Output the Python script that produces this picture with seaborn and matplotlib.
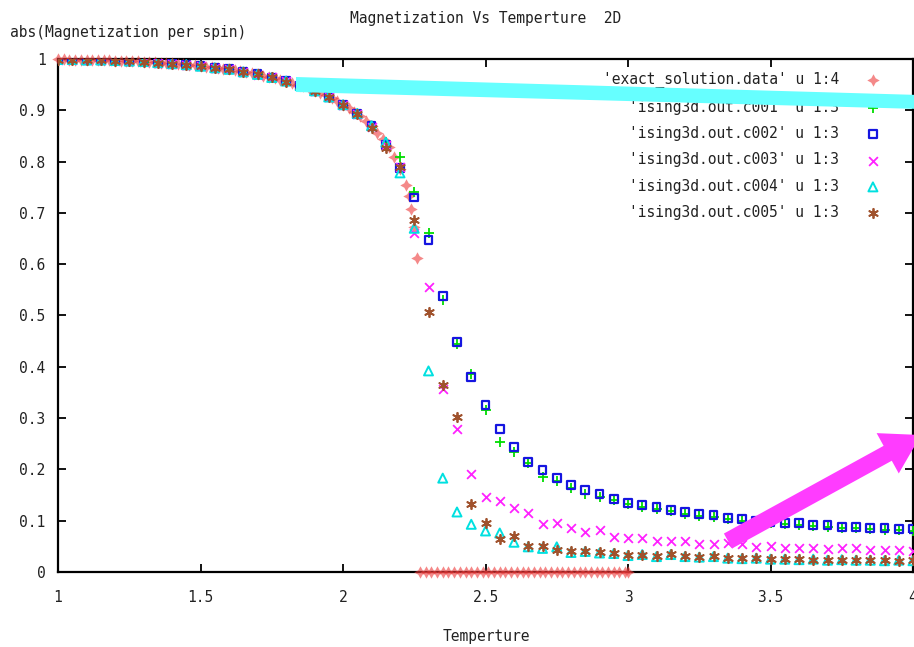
import pandas as pd
import seaborn as sns
import matplotlib.pyplot as plt
from matplotlib.patches import FancyArrow, Polygon
from matplotlib.ticker import FormatStrFormatter, MultipleLocator
from matplotlib.transforms import IdentityTransform

# temperatures of the simulation runs
temps = [1.00, 1.05, 1.10, 1.15, 1.20, 1.25, 1.30, 1.35, 1.40, 1.45,
         1.50, 1.55, 1.60, 1.65, 1.70, 1.75, 1.80, 1.85, 1.90, 1.95,
         2.00, 2.05, 2.10, 2.15, 2.20, 2.25, 2.30, 2.35, 2.40, 2.45,
         2.50, 2.55, 2.60, 2.65, 2.70, 2.75, 2.80, 2.85, 2.90, 2.95,
         3.00, 3.05, 3.10, 3.15, 3.20, 3.25, 3.30, 3.35, 3.40, 3.45,
         3.50, 3.55, 3.60, 3.65, 3.70, 3.75, 3.80, 3.85, 3.90, 3.95, 4.00]

c001 = [0.999, 0.999, 0.998, 0.998, 0.997, 0.996, 0.995, 0.993, 0.991, 0.988,
        0.986, 0.983, 0.979, 0.975, 0.970, 0.963, 0.956, 0.948, 0.937, 0.925,
        0.910, 0.892, 0.868, 0.838, 0.809, 0.740, 0.660, 0.530, 0.445, 0.386,
        0.315, 0.254, 0.233, 0.213, 0.185, 0.178, 0.163, 0.152, 0.147, 0.140,
        0.132, 0.127, 0.123, 0.118, 0.114, 0.110, 0.108, 0.103, 0.100, 0.098,
        0.095, 0.093, 0.092, 0.089, 0.088, 0.085, 0.085, 0.083, 0.082, 0.081, 0.080]
c002 = [0.999, 0.999, 0.998, 0.998, 0.997, 0.996, 0.995, 0.993, 0.991, 0.989,
        0.986, 0.983, 0.980, 0.975, 0.970, 0.964, 0.957, 0.948, 0.938, 0.926,
        0.911, 0.893, 0.869, 0.832, 0.787, 0.730, 0.647, 0.538, 0.449, 0.380,
        0.325, 0.279, 0.243, 0.215, 0.199, 0.183, 0.170, 0.160, 0.152, 0.142,
        0.135, 0.130, 0.127, 0.121, 0.117, 0.113, 0.111, 0.105, 0.103, 0.100,
        0.097, 0.095, 0.095, 0.091, 0.091, 0.088, 0.087, 0.086, 0.086, 0.083, 0.083]
c003 = [0.999, 0.999, 0.998, 0.998, 0.997, 0.996, 0.995, 0.993, 0.991, 0.989,
        0.986, 0.982, 0.980, 0.975, 0.969, 0.964, 0.957, 0.947, 0.938, 0.926,
        0.911, 0.893, 0.867, 0.833, 0.790, 0.660, 0.556, 0.357, 0.279, 0.191,
        0.147, 0.139, 0.125, 0.115, 0.093, 0.095, 0.086, 0.078, 0.082, 0.069,
        0.066, 0.066, 0.060, 0.060, 0.060, 0.055, 0.055, 0.056, 0.055, 0.049,
        0.050, 0.047, 0.047, 0.047, 0.044, 0.046, 0.046, 0.043, 0.043, 0.043, 0.040]
c004 = [0.999, 0.999, 0.998, 0.998, 0.997, 0.996, 0.995, 0.993, 0.991, 0.989,
        0.986, 0.983, 0.980, 0.975, 0.970, 0.964, 0.957, 0.948, 0.938, 0.926,
        0.911, 0.894, 0.870, 0.838, 0.778, 0.670, 0.392, 0.183, 0.117, 0.093,
        0.080, 0.076, 0.058, 0.049, 0.046, 0.049, 0.038, 0.040, 0.037, 0.036,
        0.032, 0.034, 0.030, 0.034, 0.030, 0.029, 0.030, 0.027, 0.026, 0.027,
        0.025, 0.025, 0.024, 0.025, 0.023, 0.024, 0.023, 0.023, 0.022, 0.023, 0.022]
c005 = [0.999, 0.999, 0.998, 0.998, 0.997, 0.996, 0.995, 0.993, 0.991, 0.989,
        0.986, 0.983, 0.980, 0.975, 0.970, 0.964, 0.956, 0.948, 0.938, 0.926,
        0.910, 0.892, 0.866, 0.826, 0.790, 0.686, 0.507, 0.365, 0.302, 0.132,
        0.095, 0.064, 0.070, 0.051, 0.050, 0.043, 0.040, 0.040, 0.039, 0.037,
        0.033, 0.033, 0.031, 0.035, 0.031, 0.029, 0.031, 0.027, 0.027, 0.027,
        0.025, 0.025, 0.025, 0.024, 0.024, 0.023, 0.024, 0.023, 0.023, 0.022, 0.023]

# exact (Onsager) curve, below and above Tc
exact_t_low = [1.00, 1.02, 1.04, 1.06, 1.08, 1.10, 1.12, 1.14, 1.16, 1.18,
               1.20, 1.22, 1.24, 1.26, 1.28, 1.30, 1.32, 1.34, 1.36, 1.38,
               1.40, 1.42, 1.44, 1.46, 1.48, 1.50, 1.52, 1.54, 1.56, 1.58,
               1.60, 1.62, 1.64, 1.66, 1.68, 1.70, 1.72, 1.74, 1.76, 1.78,
               1.80, 1.82, 1.84, 1.86, 1.88, 1.90, 1.92, 1.94, 1.96, 1.98,
               2.00, 2.02, 2.04, 2.06, 2.08, 2.10, 2.12, 2.14, 2.16, 2.18,
               2.20, 2.22, 2.23, 2.24, 2.25, 2.26]
exact_m_low = [0.9993, 0.9991, 0.9989, 0.9987, 0.9985, 0.9984, 0.9981, 0.9979, 0.9976, 0.9973,
               0.9970, 0.9966, 0.9962, 0.9957, 0.9953, 0.9948, 0.9942, 0.9936, 0.9929, 0.9922,
               0.9914, 0.9905, 0.9896, 0.9887, 0.9876, 0.9865, 0.9853, 0.9840, 0.9826, 0.9811,
               0.9796, 0.9779, 0.9761, 0.9742, 0.9722, 0.9701, 0.9678, 0.9654, 0.9628, 0.9600,
               0.9569, 0.9536, 0.9501, 0.9464, 0.9425, 0.9383, 0.9338, 0.9290, 0.9239, 0.9182,
               0.9113, 0.9043, 0.8968, 0.8887, 0.8795, 0.8687, 0.8566, 0.8431, 0.8275, 0.8082,
               0.7848, 0.7535, 0.7330, 0.7080, 0.6720, 0.6120]
exact_t_high = [2.27, 2.29, 2.31, 2.33, 2.35, 2.37, 2.39, 2.41, 2.43, 2.45,
                2.47, 2.49, 2.51, 2.53, 2.55, 2.57, 2.59, 2.61, 2.63, 2.65,
                2.67, 2.69, 2.71, 2.73, 2.75, 2.77, 2.79, 2.81, 2.83, 2.85,
                2.87, 2.89, 2.91, 2.93, 2.95, 2.97, 2.99, 3.00]
exact_m_high = [0.0, 0.0, 0.0, 0.0, 0.0, 0.0, 0.0, 0.0, 0.0, 0.0,
                0.0, 0.0, 0.0, 0.0, 0.0, 0.0, 0.0, 0.0, 0.0, 0.0,
                0.0, 0.0, 0.0, 0.0, 0.0, 0.0, 0.0, 0.0, 0.0, 0.0,
                0.0, 0.0, 0.0, 0.0, 0.0, 0.0, 0.0, 0.0]

labels = ["'exact_solution.data' u 1:4",
          "'ising3d.out.c001' u 1:3",
          "'ising3d.out.c002' u 1:3",
          "'ising3d.out.c003' u 1:3",
          "'ising3d.out.c004' u 1:3",
          "'ising3d.out.c005' u 1:3"]

sns.set_style("ticks")
plt.rcParams["font.family"] = ["DejaVu Sans Mono"]
txt = "#222222"
fs = 10.5

W, H = 914, 647
fig = plt.figure(figsize=(W / 100, H / 100), dpi=100)
ax = fig.add_axes([58 / W, 75 / H, 855 / W, 513 / H])

exact_df = pd.DataFrame({"T": exact_t_low + exact_t_high,
                         "M": exact_m_low + exact_m_high})
sns.scatterplot(data=exact_df, x="T", y="M", ax=ax, label=labels[0],
                marker=(4, 1, 0), s=80, color="#ee3b3b", alpha=0.6,
                linewidth=0, clip_on=False, zorder=3)

styles = [
    (c001, dict(marker="+", s=55, color="#00dd00", linewidth=1.3)),
    (c002, dict(marker="s", s=32, color="#1515e0", facecolor="none",
                edgecolor="#1515e0", linewidth=1.6)),
    (c003, dict(marker="x", s=40, color="#ff22ff", linewidth=1.3)),
    (c004, dict(marker="^", s=42, color="#00e0e0", facecolor="none",
                edgecolor="#00e0e0", linewidth=1.4)),
    (c005, dict(marker=(6, 2, 0), s=45, color="#a0522d", linewidth=1.3)),
]
for lab, (vals, kw) in zip(labels[1:], styles):
    df = pd.DataFrame({"T": temps, "M": vals})
    sns.scatterplot(data=df, x="T", y="M", ax=ax, label=lab, zorder=4, **kw)

ax.set_xlim(1, 4)
ax.set_ylim(0, 1)
ax.xaxis.set_major_locator(MultipleLocator(0.5))
ax.yaxis.set_major_locator(MultipleLocator(0.1))
ax.xaxis.set_major_formatter(FormatStrFormatter("%g"))
ax.yaxis.set_major_formatter(FormatStrFormatter("%g"))
ax.tick_params(direction="in", length=6, width=1.3, top=True, right=True,
               labelsize=fs, labelcolor=txt, color="black")
ax.tick_params(axis="x", pad=13)
ax.tick_params(axis="y", pad=9)
for sp in ax.spines.values():
    sp.set_linewidth(1.6)
    sp.set_color("black")
ax.set_xlabel("")
ax.set_ylabel("")

fig.text(486 / W, 1 - 18 / H, "Magnetization Vs Temperture  2D",
         ha="center", va="center", fontsize=fs, color=txt)
fig.text(10 / W, 1 - 33 / H, "abs(Magnetization per spin)",
         ha="left", va="center", fontsize=fs, color=txt)
fig.text(486 / W, 1 - 637 / H, "Temperture",
         ha="center", va="center", fontsize=fs, color=txt)

ax.legend(loc="upper right", bbox_to_anchor=(0.977, 0.986), frameon=False,
          markerfirst=False, fontsize=fs, labelspacing=0.78,
          handletextpad=1.3, handlelength=2.0, borderaxespad=0)
for t in ax.get_legend().get_texts():
    t.set_color(txt)

# overlay annotations, in pixel coordinates of the figure
band = Polygon([(296, H - 77), (920, H - 95), (920, H - 109), (296, H - 92)],
               closed=True, facecolor="#66ffff", edgecolor="none",
               transform=IdentityTransform(), zorder=10)
fig.add_artist(band)
arrow = FancyArrow(728, H - 541, 193, 106, width=17, head_width=46,
                   head_length=38, length_includes_head=True,
                   facecolor="#ff3cff", edgecolor="none",
                   transform=IdentityTransform(), zorder=10)
fig.add_artist(arrow)

fig.savefig("out.png", dpi=100)
